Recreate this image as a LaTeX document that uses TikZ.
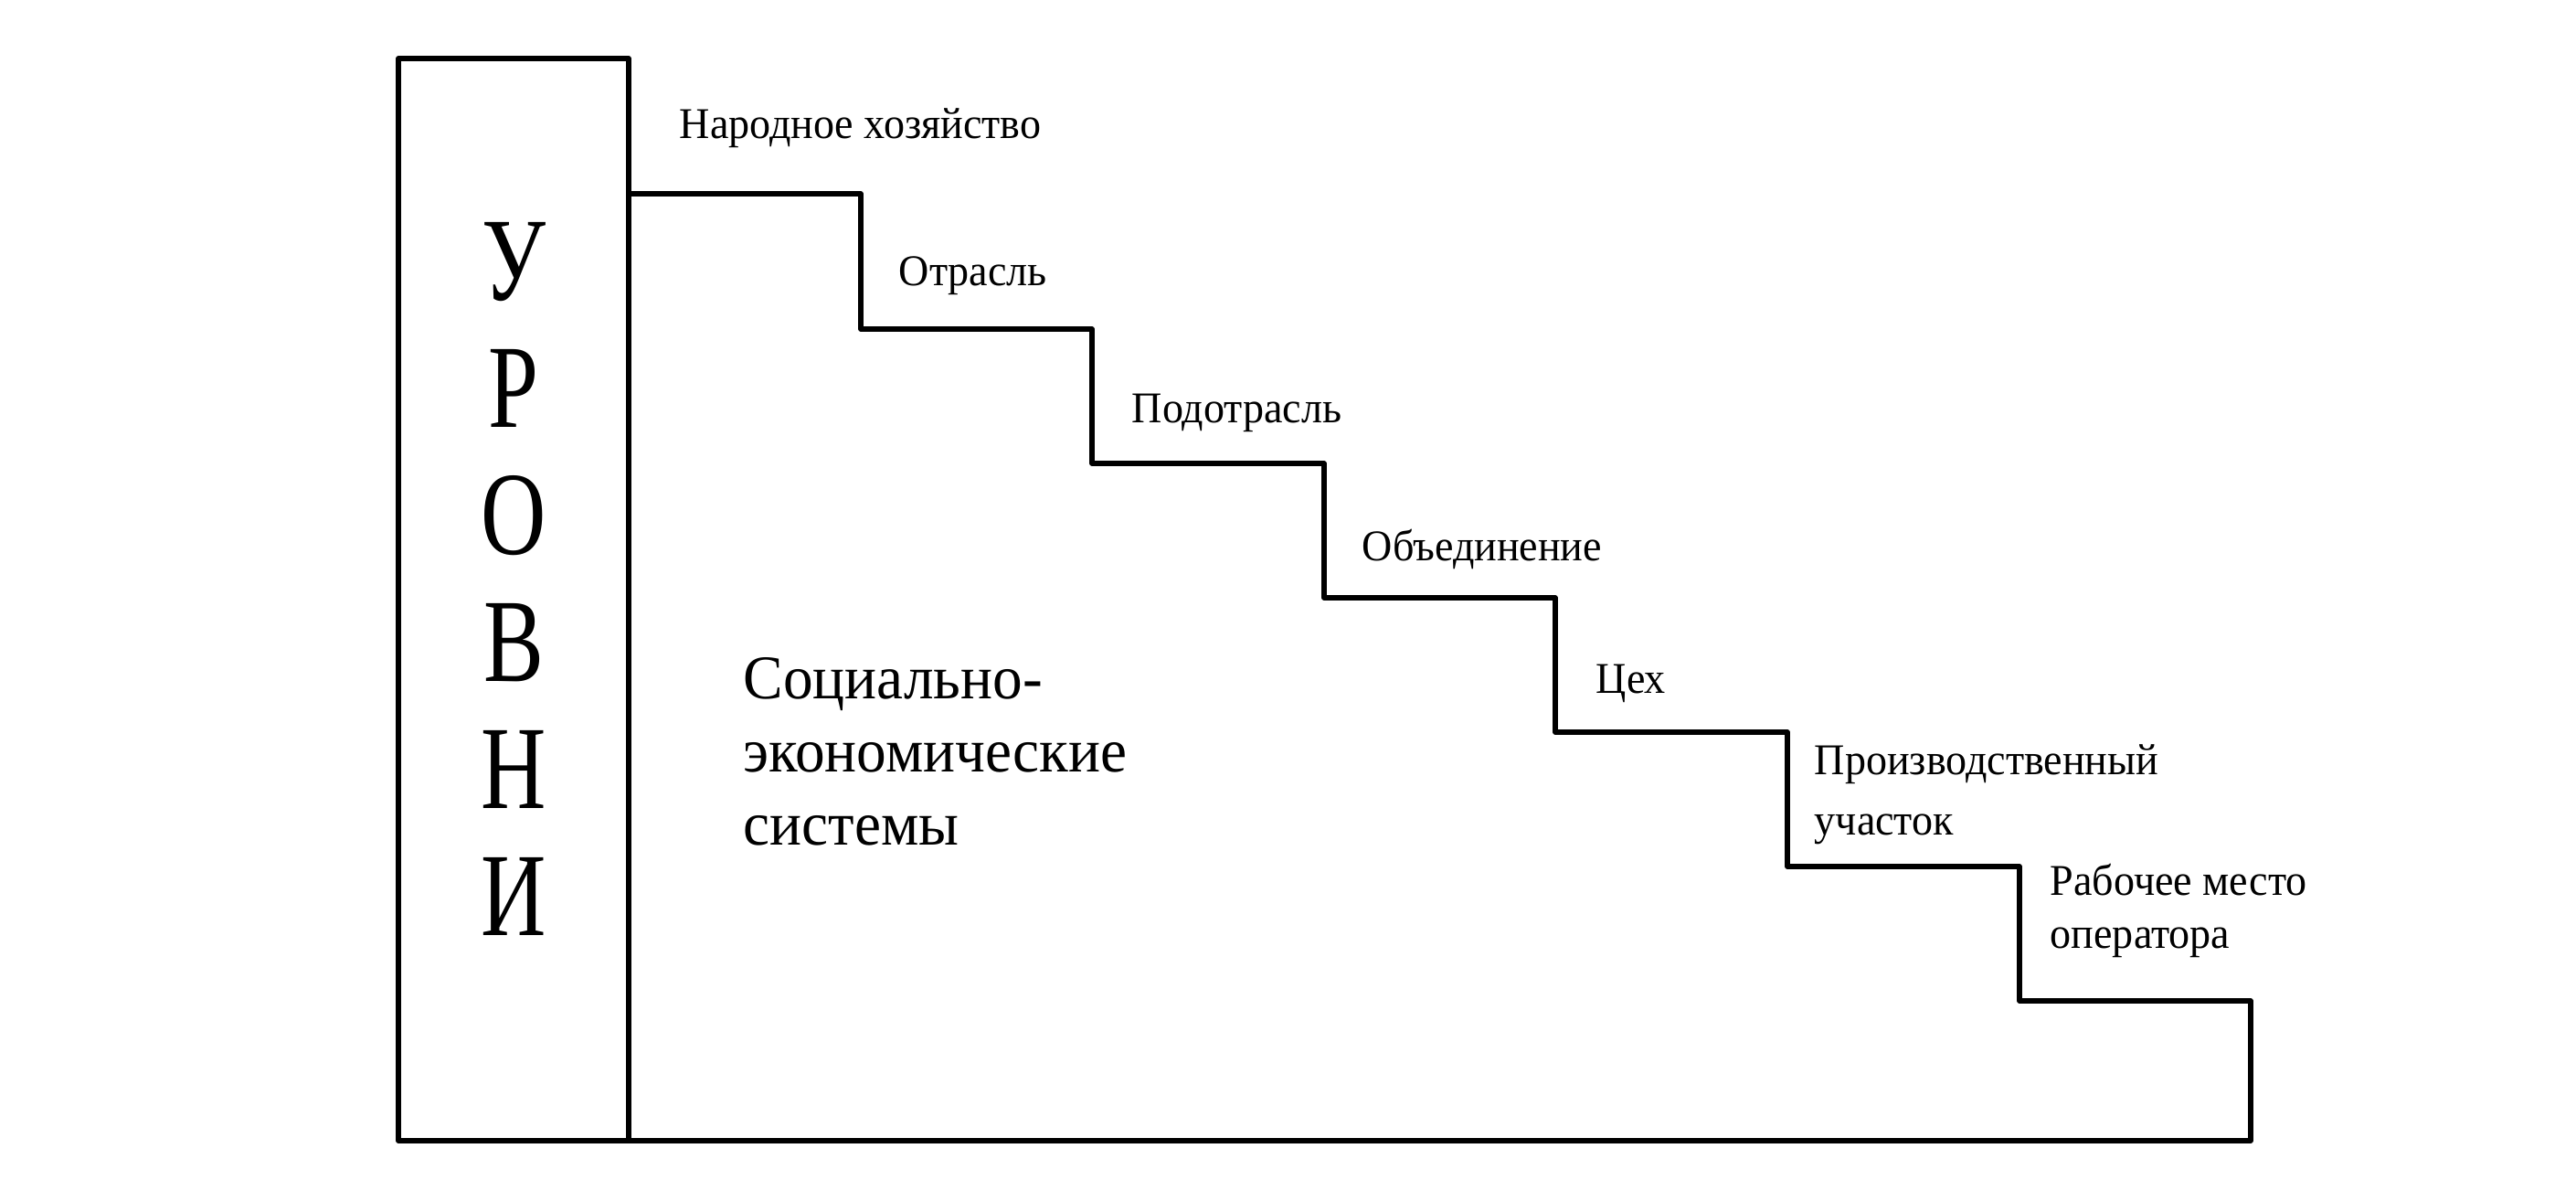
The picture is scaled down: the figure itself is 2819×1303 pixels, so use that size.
\documentclass[tikz,border=0pt]{standalone}
\usepackage{fontspec}
\setmainfont{Liberation Serif}[FakeStretch=0.96]
\newfontfamily\narrowserif{Liberation Serif}[FakeStretch=0.76]

\begin{document}
\begin{tikzpicture}[x=0.25pt,y=0.25pt,yscale=-1,xscale=1,
  frameline/.style={line width=1.3pt,line join=round},
  steplabel/.style={anchor=base west,inner sep=0pt,align=left,font=\fontsize{12}{14.5}\selectfont},
  levelletter/.style={anchor=base,inner sep=0pt,font=\narrowserif\fontsize{32.5}{32.5}\selectfont}]
\useasboundingbox (0,0) rectangle (2819,1303);

%Shape: Rectangle [id:levels box]
\draw [frameline] (436,64) rectangle (688,1248) ;

%Straight Lines [id:stairs]
\draw [frameline] (688,212) -- (942,212) -- (942,360) -- (1195,360) -- (1195,507) -- (1449,507) -- (1449,654) -- (1702,654) -- (1702,801) -- (1956,801) -- (1956,948) -- (2210,948) -- (2210,1095) -- (2463,1095) -- (2463,1248) -- (688,1248) ;

% Text Node
\draw (562,329) node [levelletter] (lvU) {У};
% Text Node
\draw (562,468) node [levelletter] (lvR) {Р};
% Text Node
\draw (562,607) node [levelletter] (lvO) {О};
% Text Node
\draw (562,746) node [levelletter] (lvV) {В};
% Text Node
\draw (562,885) node [levelletter] (lvN) {Н};
% Text Node
\draw (562,1024) node [levelletter] (lvI) {И};

% Text Node
\draw (743,152) node [steplabel] (economy) {Народное хозяйство};
% Text Node
\draw (983,313) node [steplabel] (branch) {Отрасль};
% Text Node
\draw (1238,463) node [steplabel] (subbranch) {Подотрасль};
% Text Node
\draw (1490,614) node [steplabel] (union) {Объединение};
% Text Node
\draw (1746,759) node [steplabel] (shop) {Цех};
% Text Node
\draw (1985,914) node [steplabel,font=\fontsize{12}{16.5}\selectfont] (section) {Производственный\\участок};
% Text Node
\draw (2243,1038) node [steplabel] (workplace) {Рабочее место\\оператора};

% Text Node
\draw (813,925) node [anchor=base west,inner sep=0pt,align=left,font=\fontsize{17}{20}\selectfont] (systems) {Социально-\\экономические\\системы};

\end{tikzpicture}
\end{document}
